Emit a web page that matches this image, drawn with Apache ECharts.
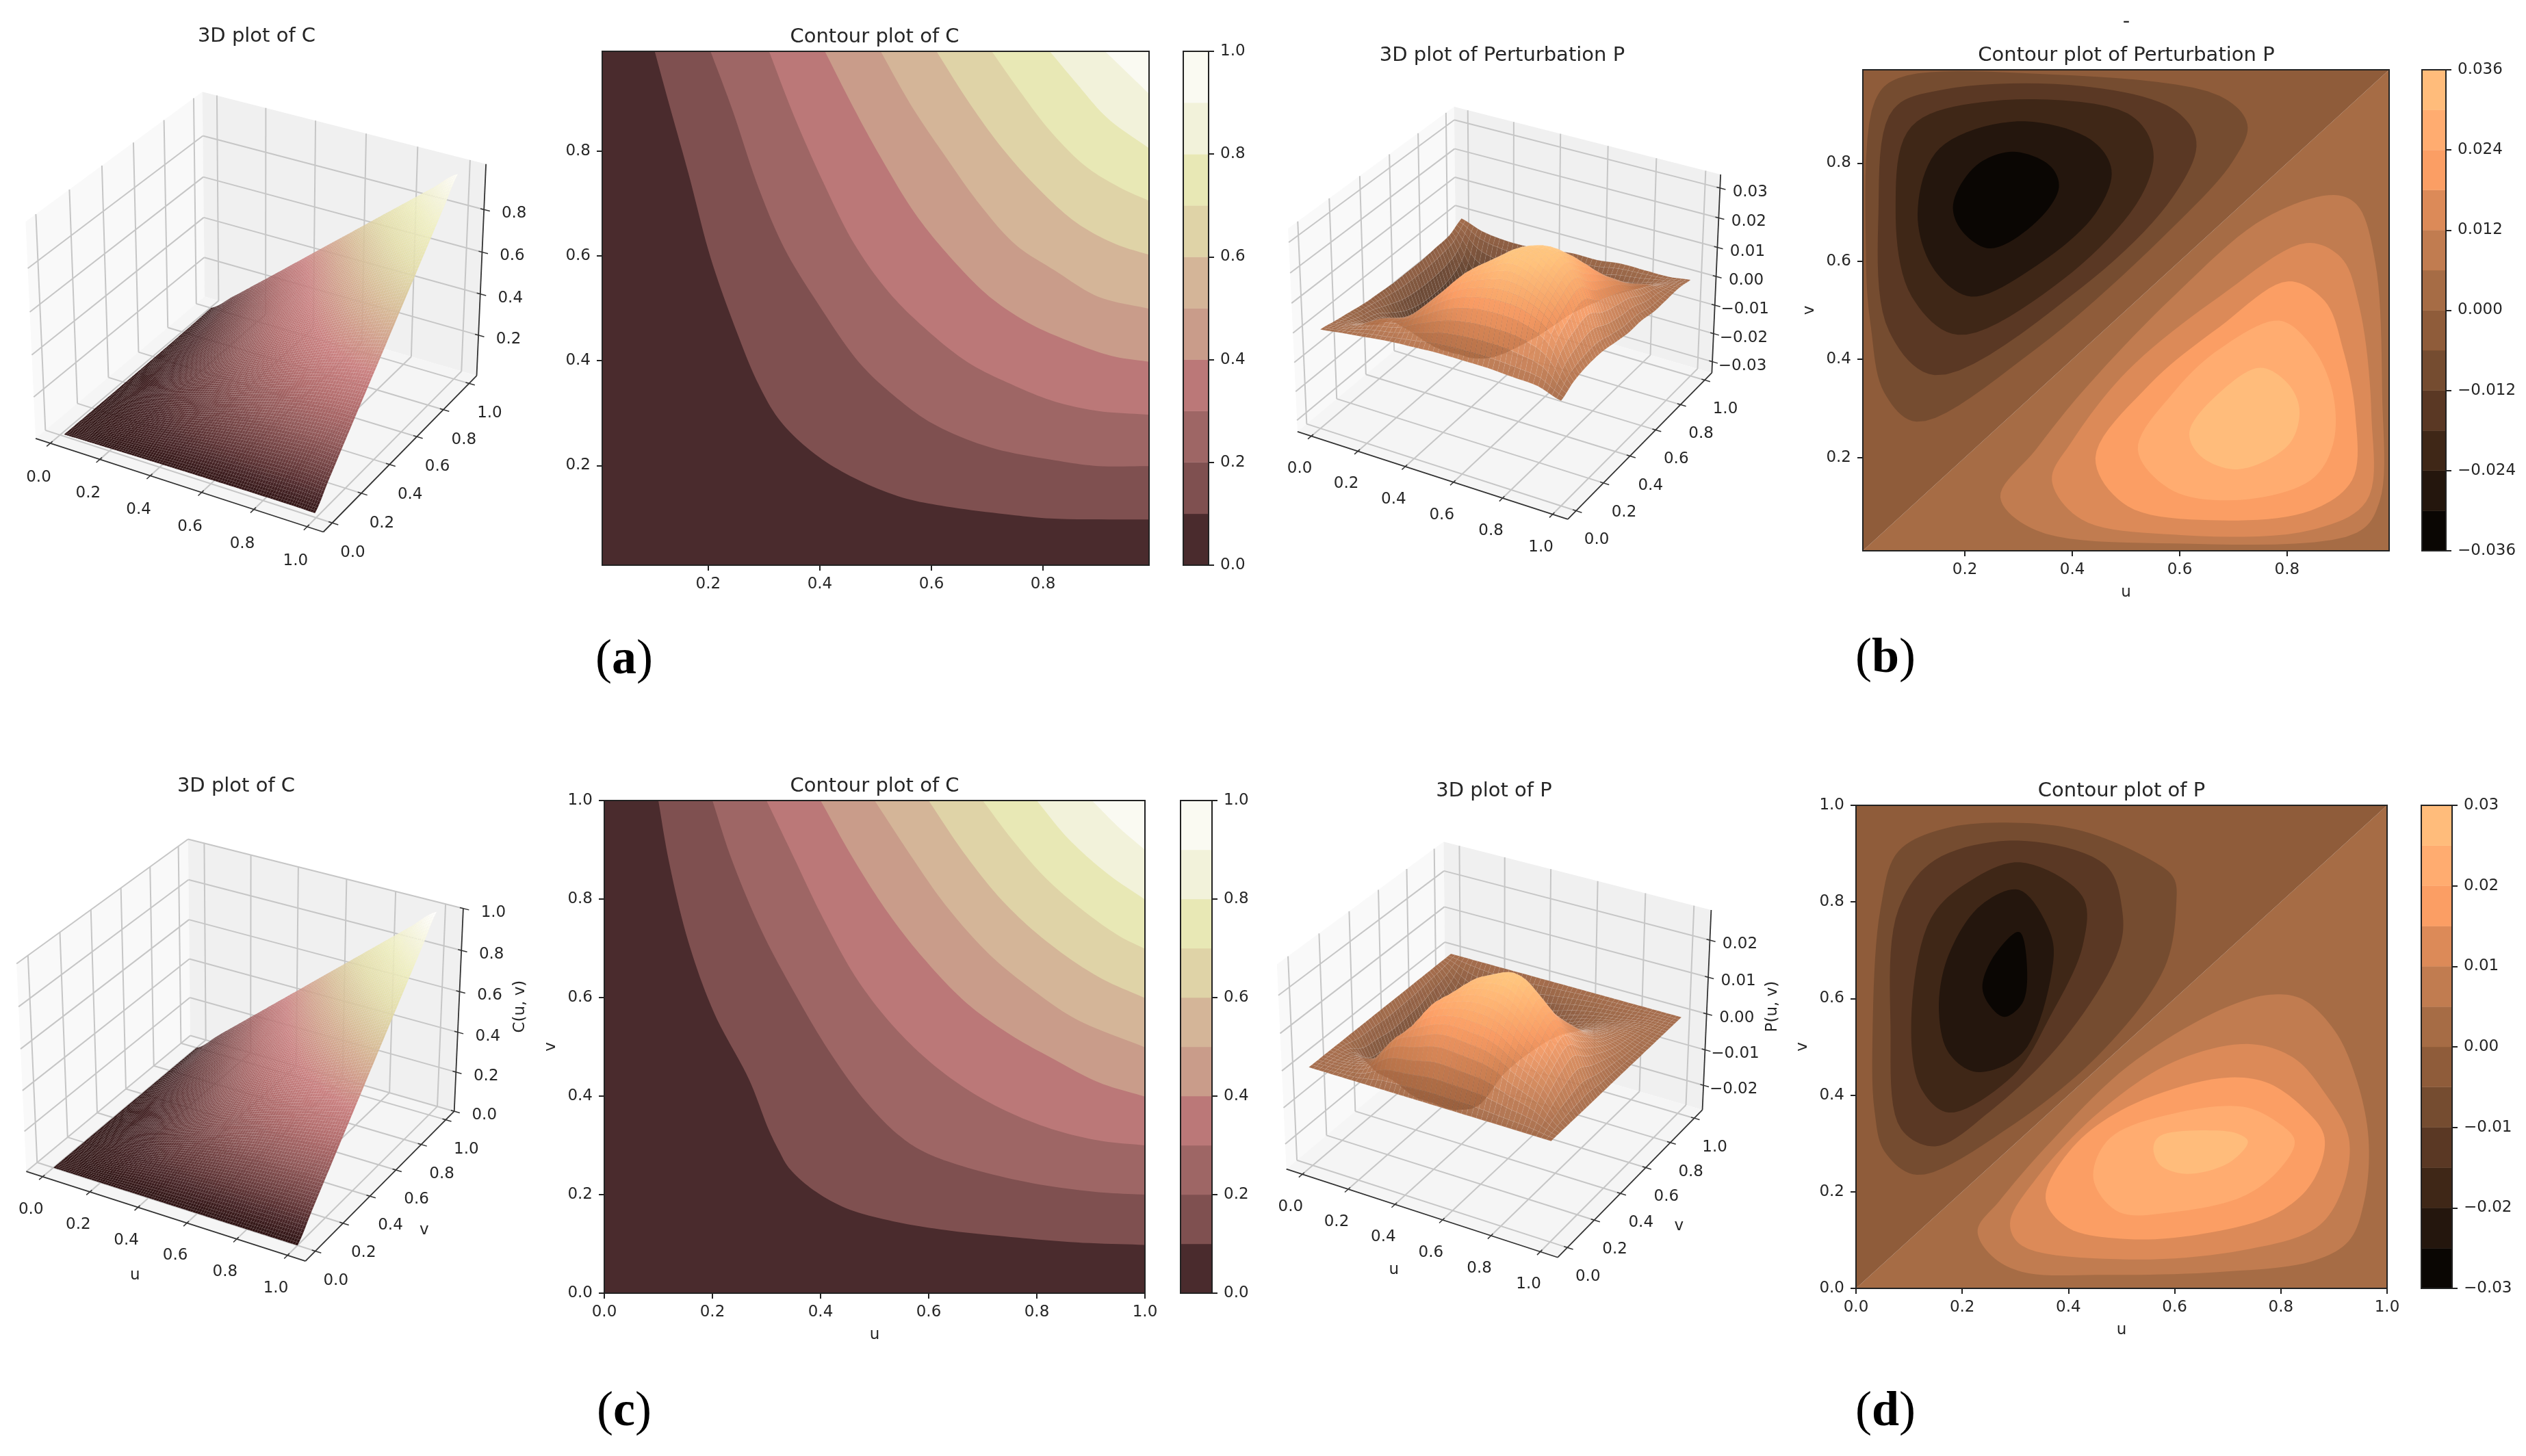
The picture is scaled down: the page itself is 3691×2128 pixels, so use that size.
<!DOCTYPE html>
<html><head><meta charset="utf-8">
<style>html,body{margin:0;background:#fff}#c{width:3691px;height:2128px}</style>
<script src="https://cdn.jsdelivr.net/npm/echarts@6/dist/echarts.min.js"></script>
</head><body><div id="c"></div>
<script>
// ---------- tick labels ----------
const ticks01 = [0, 0.2, 0.4, 0.6, 0.8, 1];
const ticksInner = [0.2, 0.4, 0.6, 0.8];
const ticksZa = [0.2, 0.4, 0.6, 0.8];
const ticksZb = [-0.03, -0.02, -0.01, 0, 0.01, 0.02, 0.03];
const ticksZd = [-0.02, -0.01, 0, 0.01, 0.02];
const ticksCbarB = [-0.036, -0.024, -0.012, 0, 0.012, 0.024, 0.036];
const ticksCbarD = [-0.03, -0.02, -0.01, 0, 0.01, 0.02, 0.03];

// ---------- contour band colours ----------
const colorsC = ['#4A2B2D','#7F5050','#9E6665','#BB7878','#C99C8A','#D4B598','#DFD3A7','#E8E8B5','#F2F2DA','#FAFAF2'];
const colorsP = ['#0A0603','#24160D','#3F2717','#5A3824','#754C30','#8F5C3A','#A66C45','#C17C50','#DC8A58','#FB9E64','#FFAC70','#FFBC7B'];

// ---------- contour lines of C, panel (a): levels 0.1 ... 0.9, [u, v] ----------
const curvesA = [
 [[.104,.99],[.126,.904],[.165,.755],[.204,.597],[.251,.455],[.290,.355],[.329,.285],[.391,.222],[.462,.176],[.548,.139],[.626,.122],[.743,.106],[.813,.099],[.99,.097]],
 [[.204,.99],[.243,.879],[.290,.730],[.337,.613],[.399,.505],[.470,.397],[.532,.334],[.602,.280],[.704,.235],[.821,.210],[.899,.199],[.99,.199]],
 [[.309,.99],[.352,.871],[.407,.738],[.462,.622],[.524,.530],[.587,.463],[.665,.397],[.743,.355],[.821,.322],[.899,.304],[.99,.297]],
 [[.409,.99],[.462,.879],[.509,.788],[.571,.680],[.634,.597],[.704,.522],[.774,.472],[.845,.438],[.923,.409],[.99,.398]],
 [[.509,.99],[.563,.888],[.626,.788],[.688,.696],[.751,.621],[.821,.572],[.899,.522],[.99,.499]],
 [[.609,.99],[.665,.896],[.727,.805],[.790,.730],[.860,.663],[.931,.622],[.99,.602]],
 [[.708,.99],[.759,.913],[.813,.838],[.876,.771],[.938,.730],[.99,.705]],
 [[.812,.99],[.860,.929],[.915,.863],[.99,.805]],
 [[.911,.99],[.954,.946],[.99,.909]]
];
// ---------- contour lines of C, panel (c) ----------
const curvesC = [
 [[.100,1],[.119,.879],[.155,.715],[.203,.569],[.268,.433],[.304,.332],[.324,.287],[.341,.255],[.381,.214],[.446,.173],[.534,.146],[.631,.128],[.752,.114],[.873,.103],[1,.098]],
 [[.2,1],[.236,.879],[.292,.733],[.349,.615],[.413,.496],[.478,.396],[.542,.323],[.591,.287],[.671,.255],[.793,.223],[.914,.205],[1,.2]],
 [[.3,1],[.349,.888],[.405,.760],[.470,.633],[.542,.533],[.623,.451],[.712,.387],[.817,.337],[.914,.310],[1,.3]],
 [[.4,1],[.462,.879],[.526,.770],[.591,.679],[.671,.588],[.752,.524],[.833,.474],[.914,.428],[1,.399]],
 [[.5,1],[.567,.888],[.631,.788],[.712,.688],[.793,.615],[.873,.556],[1,.499]],
 [[.6,1],[.663,.897],[.736,.797],[.817,.715],[.914,.642],[1,.599]],
 [[.7,1],[.752,.924],[.817,.842],[.889,.774],[.954,.724],[1,.699]],
 [[.8,1],[.857,.924],[.930,.852],[1,.799]],
 [[.902,1],[.954,.943],[1,.9]]
];
// ---------- closed contours of P, panel (b) ----------
const loopsBNeg = [
 [[.016,.599],[.033,.928],[.076,.973],[.332,.982],[.674,.937],[.726,.879],[.699,.804],[.588,.670],[.332,.421],[.110,.273],[.050,.332],[.025,.466]],
 [[.039,.697],[.067,.910],[.161,.950],[.417,.957],[.588,.910],[.631,.844],[.588,.732],[.417,.546],[.144,.368],[.059,.457]],
 [[.071,.706],[.101,.875],[.247,.926],[.503,.901],[.550,.830],[.528,.732],[.383,.563],[.187,.450],[.101,.528]],
 [[.112,.697],[.153,.830],[.298,.885],[.434,.848],[.473,.786],[.443,.697],[.332,.590],[.212,.528],[.144,.581]],
 [[.178,.715],[.221,.795],[.289,.823],[.358,.795],[.375,.750],[.332,.679],[.247,.626],[.195,.661]]
];
const loopsBPos = [
 [[.266,.119],[.332,.216],[.417,.332],[.588,.528],[.759,.688],[.887,.735],[.930,.715],[.964,.599],[.977,.332],[.972,.110],[.930,.047],[.588,.025],[.332,.052]],
 [[.362,.154],[.400,.234],[.503,.377],[.674,.528],[.836,.637],[.900,.608],[.934,.510],[.957,.288],[.947,.110],[.844,.052],[.588,.043],[.417,.074]],
 [[.443,.199],[.545,.350],[.674,.466],[.802,.559],[.870,.519],[.904,.421],[.927,.288],[.921,.154],[.844,.092],[.674,.072],[.503,.101]],
 [[.522,.216],[.588,.332],[.674,.421],[.785,.479],[.844,.430],[.885,.332],[.885,.225],[.844,.154],[.716,.114],[.588,.132]],
 [[.618,.252],[.674,.332],[.750,.383],[.802,.350],[.823,.296],[.802,.225],[.708,.176],[.639,.203]]
];
// ---------- closed contours of P, panel (d) ----------
const loopsDNeg = [
 [[.031,.515],[.046,.785],[.080,.905],[.167,.952],[.296,.964],[.426,.947],[.555,.887],[.598,.850],[.603,.794],[.581,.664],[.469,.497],[.296,.339],[.115,.235],[.054,.283],[.035,.367]],
 [[.065,.543],[.080,.785],[.149,.887],[.305,.927],[.469,.877],[.501,.785],[.495,.701],[.391,.515],[.253,.367],[.149,.294],[.085,.330]],
 [[.104,.552],[.141,.766],[.210,.840],[.309,.882],[.426,.812],[.427,.710],[.365,.562],[.296,.441],[.175,.364],[.123,.413]],
 [[.156,.580],[.175,.692],[.236,.794],[.307,.825],[.365,.738],[.371,.673],[.313,.487],[.227,.448],[.175,.487]],
 [[.238,.627],[.262,.692],[.307,.738],[.322,.664],[.313,.590],[.279,.562],[.249,.590]]
];
const loopsDPos = [
 [[.229,.121],[.270,.181],[.357,.292],[.512,.460],[.685,.576],[.780,.608],[.840,.599],[.901,.534],[.940,.441],[.965,.311],[.957,.181],[.927,.097],[.858,.056],[.685,.034],[.469,.028],[.313,.034],[.253,.070]],
 [[.290,.135],[.339,.227],[.460,.367],[.598,.469],[.737,.506],[.823,.478],[.883,.404],[.928,.311],[.914,.200],[.866,.125],[.728,.079],[.512,.060],[.313,.088]],
 [[.357,.186],[.408,.292],[.512,.376],[.685,.435],[.771,.427],[.840,.376],[.882,.313],[.858,.218],[.788,.153],[.642,.111],[.512,.102],[.400,.125]],
 [[.447,.227],[.478,.311],[.598,.362],[.728,.376],[.788,.348],[.826,.306],[.797,.246],[.728,.190],[.598,.158],[.495,.158]],
 [[.560,.292],[.573,.316],[.668,.327],[.719,.320],[.738,.304],[.702,.260],[.624,.237],[.573,.255]]
];

// ---------- surface tables: rows are v, columns are u ----------
const nodesAB = [.01,.1,.2,.3,.4,.5,.6,.7,.8,.9,.99];
const nodesCD = [0,.1,.2,.3,.4,.5,.6,.7,.8,.9,1];
const surfaceA = [
 [.0001,.002,.004,.006,.0075,.009,.010,.011,.0115,.012,.0104],
 [0,.01,.024,.0365,.0525,.068,.081,.092,.101,.106,.102],
 [0,.016,.04,.064,.093,.1225,.148,.172,.189,.201,.202],
 [0,.0235,.056,.09,.125,.167,.206,.242,.272,.293,.301],
 [.0005,.0275,.067,.115,.16,.208,.258,.3055,.3475,.378,.399],
 [.001,.032,.0775,.133,.192,.25,.3085,.3665,.421,.465,.497],
 [.002,.039,.092,.154,.222,.2915,.36,.427,.493,.552,.596],
 [.003,.048,.108,.178,.2545,.3335,.413,.49,.5665,.6375,.694],
 [.0045,.059,.131,.208,.2925,.379,.467,.5535,.64,.724,.793],
 [.006,.074,.159,.247,.342,.435,.528,.6225,.716,.81,.892],
 [.0094,.096,.194,.293,.393,.493,.592,.692,.791,.89,.98]
];
const surfaceB = [
 [0,.001,.002,.003,.0035,.004,.004,.004,.0035,.003,.0005],
 [-.001,0,.004,.0065,.0125,.018,.021,.022,.021,.016,.003],
 [-.002,-.004,0,.004,.013,.0225,.028,.032,.029,.021,.004],
 [-.003,-.0065,-.004,0,.005,.017,.026,.032,.032,.023,.004],
 [-.0035,-.0125,-.013,-.005,0,.008,.018,.0255,.0275,.018,.003],
 [-.004,-.018,-.0225,-.017,-.008,0,.0085,.0165,.021,.015,.002],
 [-.004,-.021,-.028,-.026,-.018,-.0085,0,.007,.013,.012,.002],
 [-.004,-.022,-.032,-.032,-.0255,-.0165,-.007,0,.0065,.0075,.001],
 [-.0035,-.021,-.029,-.032,-.0275,-.021,-.013,-.0065,0,.004,.001],
 [-.003,-.016,-.021,-.023,-.018,-.015,-.012,-.0075,-.004,0,.001],
 [-.0005,-.003,-.004,-.004,-.003,-.002,-.002,-.001,-.001,-.001,0]
];
const surfaceC = [
 [0,0,0,0,0,0,0,0,0,0,0],
 [0,.01,.022,.0395,.0525,.0648,.0745,.0835,.09,.0965,.1],
 [0,.018,.04,.0665,.0975,.1215,.1435,.1625,.1775,.191,.2],
 [0,.0205,.0535,.09,.1315,.1715,.206,.2375,.2615,.283,.3],
 [0,.0275,.0625,.1085,.16,.2095,.2565,.298,.3355,.369,.4],
 [0,.0352,.0785,.1285,.1905,.25,.306,.3602,.4102,.456,.5],
 [0,.0455,.0965,.154,.2235,.294,.36,.424,.4852,.5435,.6],
 [0,.0565,.1175,.1825,.262,.3398,.416,.49,.562,.632,.7],
 [0,.07,.1425,.2185,.3045,.3898,.4748,.558,.64,.721,.8],
 [0,.0835,.169,.257,.351,.444,.5365,.628,.719,.81,.9],
 [0,.1,.2,.3,.4,.5,.6,.7,.8,.9,1]
];
const surfaceD = [
 [0,0,0,0,0,0,0,0,0,0,0],
 [0,0,.002,.0095,.0125,.0148,.0145,.0135,.010,.0065,0],
 [0,-.002,0,.0065,.0175,.0215,.0235,.0225,.0175,.011,0],
 [0,-.0095,-.0065,0,.0115,.0215,.026,.0275,.0215,.013,0],
 [0,-.0125,-.0175,-.0115,0,.0095,.0165,.018,.0155,.009,0],
 [0,-.0148,-.0215,-.0215,-.0095,0,.006,.0102,.0102,.006,0],
 [0,-.0145,-.0235,-.026,-.0165,-.006,0,.004,.0052,.0035,0],
 [0,-.0135,-.0225,-.0275,-.018,-.0102,-.004,0,.002,.002,0],
 [0,-.010,-.0175,-.0215,-.0155,-.0102,-.0052,-.002,0,.001,0],
 [0,-.0065,-.011,-.013,-.009,-.006,-.0035,-.002,-.001,0,0],
 [0,0,0,0,0,0,0,0,0,0,0]
];

// ---------- styles ----------
const FONT = 'DejaVu Sans', INK = '#262626', TICK_FS = 23, TITLE_FS = 29;
const pinkStops = [[0,'#240808'],[.05,'#401C1E'],[.1,'#5C2F30'],[.2,'#8A5050'],[.3,'#AE6666'],[.4,'#C87C7C'],[.5,'#D0A088'],[.6,'#D8C298'],[.7,'#E3DEAA'],[.8,'#EDEDBC'],[.9,'#F6F6DC'],[1,'#FFFFFF']];
const copperStops = [[0,'#000000'],[.8,'#FF9F66'],[1,'#FFC77F']];
function hex(c){return [1,3,5].map(i=>parseInt(c.substr(i,2),16));}
function colorAt(stops,x){
  x=Math.max(0,Math.min(1,x));
  for(let i=1;i<stops.length;i++){ if(x<=stops[i][0]){
    const a=stops[i-1],b=stops[i],t=(x-a[0])/(b[0]-a[0]),ca=hex(a[1]),cb=hex(b[1]);
    return 'rgb('+ca.map((v,k)=>Math.round(v+(cb[k]-v)*t)).join(',')+')';
  }}
  return stops[stops.length-1][1];
}
const fmtMinus = d => v => (v<0?'\u2212':'')+Math.abs(v).toFixed(d);

const opt = {backgroundColor:'#fff',animation:false,title:[],grid:[],xAxis:[],yAxis:[],series:[]};
function addTitle(text,x,y,fs,family,weight,color,rich){
  opt.title.push({text,left:x,top:y,padding:0,textAlign:'center',textVerticalAlign:'middle',
    textStyle:{fontSize:fs||TITLE_FS,fontFamily:family||FONT,fontWeight:weight||'normal',color:color||INK,rich:rich}});
}
function addGrid(l,t,w,h){opt.grid.push({left:l,top:t,width:w,height:h,containLabel:false});return opt.grid.length-1;}
function customSeries(gi,items,render,z,clip){
  opt.series.push({type:'custom',coordinateSystem:'cartesian2d',xAxisIndex:gi,yAxisIndex:gi,silent:true,animation:false,
    progressive:0,clip:!!clip,z:z,data:items.map((_,i)=>[i,0]),renderItem:(p,api)=>render(items[p.dataIndex],api)});
}
// centripetal Catmull-Rom path through the read points (drawing only)
function splineSeg(p0,p1,p2,p3,out,steps){
  const tj=(a,b)=>Math.pow(Math.hypot(b[0]-a[0],b[1]-a[1]),.5)||1e-6;
  const t0=0,t1=t0+tj(p0,p1),t2=t1+tj(p1,p2),t3=t2+tj(p2,p3);
  const L=(a,b,ta,tb,t)=>[a[0]+(b[0]-a[0])*(t-ta)/(tb-ta),a[1]+(b[1]-a[1])*(t-ta)/(tb-ta)];
  for(let k=0;k<steps;k++){
    const t=t1+(t2-t1)*k/steps;
    const A1=L(p0,p1,t0,t1,t),A2=L(p1,p2,t1,t2,t),A3=L(p2,p3,t2,t3,t);
    const B1=L(A1,A2,t0,t2,t),B2=L(A2,A3,t1,t3,t);
    out.push(L(B1,B2,t1,t2,t));
  }
}
function closedPath(l){const n=l.length,o=[];for(let i=0;i<n;i++)splineSeg(l[(i-1+n)%n],l[i],l[(i+1)%n],l[(i+2)%n],o,10);return o;}
function openPath(l){const n=l.length,o=[];for(let i=0;i<n-1;i++)splineSeg(l[Math.max(0,i-1)===i?i:i-1],l[i],l[i+1],l[Math.min(n-1,i+2)===i+1?i+1:i+2],o,10);o.push(l[n-1]);return o;}

// ---------- contour panels ----------
function valueAxis(pos,gi,lim,vals,d,name,gap,extra){
  return Object.assign({type:'value',gridIndex:gi,position:pos,min:lim[0],max:lim[1],scale:true,
    axisLine:{show:true,onZero:false,lineStyle:{color:'#222',width:2}},splitLine:{show:false},
    axisTick:{show:vals.length>0,length:8,customValues:vals,lineStyle:{color:'#222',width:2}},
    axisLabel:{show:vals.length>0,customValues:vals,margin:17,fontSize:TICK_FS,fontFamily:FONT,color:INK,formatter:fmtMinus(d),showMinLabel:true,showMaxLabel:true,hideOverlap:false},
    name:name||'',nameLocation:'middle',nameGap:gap||0,nameTextStyle:{fontSize:TICK_FS,fontFamily:FONT,color:INK}},extra||{});
}
function frameSeries(gi,xl,yl){
  customSeries(gi,[0],(it,api)=>{
    const a=api.coord([xl[0],yl[1]]),b=api.coord([xl[1],yl[0]]);
    return {type:'rect',shape:{x:a[0],y:a[1],width:b[0]-a[0],height:b[1]-a[1]},style:{fill:'none',stroke:'#222',lineWidth:2}};
  },6,false);
}
function contourPanel(box,xl,yl,vals,items,xname,yname){
  const gi=addGrid(box[0],box[1],box[2],box[3]);
  opt.xAxis.push(valueAxis('bottom',gi,xl,vals,1,xname,50));
  opt.yAxis.push(valueAxis('left',gi,yl,vals,1,yname,66,{nameRotate:90}));
  customSeries(gi,items,(it,api)=>({type:'polygon',shape:{points:it.pts.map(p=>api.coord(p))},style:{fill:it.fill}}),3,true);
  frameSeries(gi,xl,yl);
}
function colorbar(box,lim,vals,d,colors){
  const gi=addGrid(box[0],box[1],box[2],box[3]);
  opt.xAxis.push(valueAxis('bottom',gi,[0,1],[],1,'',0,{show:false}));
  opt.yAxis.push(valueAxis('right',gi,lim,vals,d));
  const n=colors.length, bands=colors.map((c,i)=>({lo:i/n,hi:(i+1)/n,c}));
  customSeries(gi,bands,(b,api)=>{
    const span=lim[1]-lim[0],p=api.coord([0,lim[0]+b.hi*span]),q=api.coord([1,lim[0]+b.lo*span]);
    return {type:'rect',shape:{x:p[0],y:p[1],width:q[0]-p[0],height:q[1]-p[1]},style:{fill:b.c,stroke:b.c,lineWidth:.5}};
  },3,true);
  frameSeries(gi,[0,1],lim);
}
function bandsFromCurves(curves,colors,xl,yl){
  const items=[{pts:[[xl[0],yl[0]],[xl[1],yl[0]],[xl[1],yl[1]],[xl[0],yl[1]]],fill:colors[0]}];
  curves.forEach((c,i)=>{
    const n=c.length,s=[c[0][0]+(c[0][0]-c[1][0])*.6,c[0][1]+(c[0][1]-c[1][1])*.6],
      e=[c[n-1][0]+(c[n-1][0]-c[n-2][0])*.6,c[n-1][1]+(c[n-1][1]-c[n-2][1])*.6];
    items.push({pts:[...openPath([s,...c,e]),[1.6,e[1]],[1.6,1.6],[s[0],1.6]],fill:colors[i+1]});
  });
  return items;
}
function bandsFromLoops(neg,pos,colors,xl,yl){
  const mid=colors.length/2;
  const items=[
    {pts:[[xl[0],yl[0]],[xl[1],yl[0]],[xl[1],yl[1]]],fill:colors[mid]},
    {pts:[[xl[0],yl[0]],[xl[1],yl[1]],[xl[0],yl[1]]],fill:colors[mid-1]}
  ];
  neg.forEach((l,i)=>items.push({pts:closedPath(l),fill:colors[mid-2-i]}));
  pos.forEach((l,i)=>items.push({pts:closedPath(l),fill:colors[mid+1+i]}));
  return items;
}
const limIn=[.01,.99], lim01=[0,1];
contourPanel([880,75,799,751],limIn,limIn,ticksInner,bandsFromCurves(curvesA,colorsC,limIn,limIn));
colorbar([1729,75,37,751],[0,1],ticks01,1,colorsC);
contourPanel([2722,102,769,703],limIn,limIn,ticksInner,bandsFromLoops(loopsBNeg,loopsBPos,colorsP,limIn,limIn),'u','v');
colorbar([3539,102,35,703],[-.036,.036],ticksCbarB,3,colorsP);
contourPanel([883,1170,790,720],lim01,lim01,ticks01,bandsFromCurves(curvesC,colorsC,lim01,lim01),'u','v');
colorbar([1725,1170,46,720],[0,1],ticks01,1,colorsC);
contourPanel([2712,1177,776,706],lim01,lim01,ticks01,bandsFromLoops(loopsDNeg,loopsDPos,colorsP,lim01,lim01),'u','v');
colorbar([3538,1177,45,706],[-.03,.03],ticksCbarD,2,colorsP);

// ---------- 3D panels ----------
const EL=30*Math.PI/180, AZ=-60*Math.PI/180, DIST=10, BOX=[1.1429,1.1429,.8572];
const nv=[Math.cos(AZ)*Math.cos(EL),Math.sin(AZ)*Math.cos(EL),Math.sin(EL)];
const uv=[-Math.sin(AZ),Math.cos(AZ),0];
const vv=[-Math.sin(EL)*Math.cos(AZ),-Math.sin(EL)*Math.sin(AZ),Math.cos(EL)];
function projector(P){
  return (x,y,z)=>{
    const a=[((x-P.xl[0])/(P.xl[1]-P.xl[0])-.5)*BOX[0],((y-P.yl[0])/(P.yl[1]-P.yl[0])-.5)*BOX[1],((z-P.zl[0])/(P.zl[1]-P.zl[0])-.5)*BOX[2]];
    const dot=(w)=>w[0]*a[0]+w[1]*a[1]+w[2]*a[2], d=DIST-dot(nv);
    return [DIST*dot(uv)/d,DIST*dot(vv)/d,d];
  };
}
function cr(a,b,c,d,t){return .5*(2*b+(c-a)*t+(2*a-5*b+4*c-d)*t*t+(-a+3*b-3*c+d)*t*t*t);}
function sampleTable(tb,s,t){
  const n=tb.length-1, i=Math.min(n-1,Math.floor(s)), j=Math.min(n-1,Math.floor(t)), fs=s-i, ft=t-j;
  const g=(jj,ii)=>tb[Math.max(0,Math.min(n,jj))][Math.max(0,Math.min(n,ii))];
  const row=k=>cr(g(k,i-1),g(k,i),g(k,i+1),g(k,i+2),fs);
  return cr(row(j-1),row(j),row(j+1),row(j+2),ft);
}
function panel3D(P){
  const W=3691,H=2128, gi=addGrid(0,0,W,H);
  const hidden=(a,b)=>({type:'value',gridIndex:gi,min:a,max:b,show:false,scale:true});
  opt.xAxis.push(hidden(-P.cx/P.sx,(W-P.cx)/P.sx)); opt.yAxis.push(hidden((P.cy-H)/P.sy,P.cy/P.sy));
  const pr=projector(P), [x0,x1]=P.xl,[y0,y1]=P.yl,[z0,z1]=P.zl;
  const xy=(x,y,z)=>pr(x,y,z).slice(0,2);
  const poly=(pts,fill)=>({k:'poly',pts:pts.map(p=>xy(...p)),fill});
  const line=(a,b,c,w)=>({k:'line',a:xy(...a),b:xy(...b),c,w});
  const text=(p,s,dx,dy,rot)=>({k:'text',p:xy(...p),s,dx,dy,rot:rot||0});
  const GC='#C6C6C6',AX='#333333',items=[
    poly([[x0,y0,z0],[x0,y1,z0],[x0,y1,z1],[x0,y0,z1]],'#F9F9F9'),
    poly([[x0,y1,z0],[x1,y1,z0],[x1,y1,z1],[x0,y1,z1]],'#F0F0F0'),
    poly([[x0,y0,z0],[x1,y0,z0],[x1,y1,z0],[x0,y1,z0]],'#F5F5F5')
  ];
  const rx=x1-x0,ry=y1-y0;
  ticks01.forEach(t=>{
    items.push(line([t,y0,z0],[t,y1,z0],GC,2),line([t,y1,z0],[t,y1,z1],GC,2));
    items.push(line([x0,t,z0],[x1,t,z0],GC,2),line([x0,t,z0],[x0,t,z1],GC,2));
    items.push(line([t,y0-.02*ry,z0],[t,y0+.012*ry,z0],AX,1.5),text([t,y0,z0],t.toFixed(1),P.xo[0],P.xo[1]));
    items.push(line([x1+.02*rx,t,z0],[x1-.012*rx,t,z0],AX,1.5),text([x1,t,z0],t.toFixed(1),P.yo[0],P.yo[1]));
  });
  P.zt.forEach(t=>{
    items.push(line([x0,y0,t],[x0,y1,t],GC,2),line([x0,y1,t],[x1,y1,t],GC,2));
    items.push(line([x1+.02*rx,y1,t],[x1-.012*rx,y1,t],AX,1.5),text([x1,y1,t],fmtMinus(P.zd)(t),P.zo[0],P.zo[1]));
  });
  items.push(line([x0,y0,z0],[x1,y0,z0],AX,1.8),line([x1,y0,z0],[x1,y1,z0],AX,1.8),line([x1,y1,z0],[x1,y1,z1],AX,1.8));
  if(P.names){
    const mx=(x0+x1)/2,my=(y0+y1)/2,mz=(z0+z1)/2;
    items.push(text([mx,y0,z0],'u',P.names.u[0],P.names.u[1]));
    items.push(text([x1,my,z0],'v',P.names.v[0],P.names.v[1]));
    items.push(text([x1,y1,mz],P.names.zs,P.names.z[0],P.names.z[1],Math.PI/2));
  }
  customSeries(gi,items,(it,api)=>{
    if(it.k==='poly') return {type:'polygon',shape:{points:it.pts.map(p=>api.coord(p))},style:{fill:it.fill}};
    if(it.k==='line'){const a=api.coord(it.a),b=api.coord(it.b);
      return {type:'line',shape:{x1:a[0],y1:a[1],x2:b[0],y2:b[1]},style:{stroke:it.c,lineWidth:it.w}};}
    const q=api.coord(it.p);
    return {type:'text',x:q[0]+it.dx,y:q[1]+it.dy,rotation:it.rot,style:{text:it.s,fontSize:TICK_FS,fontFamily:FONT,fill:INK,align:'center',verticalAlign:'middle'}};
  },1,false);

  // surface
  const N=P.cells, n=P.nodes.length-1, verts=[];
  for(let j=0;j<=N;j++){ const row=[]; const t=j/N*n;
    for(let i=0;i<=N;i++){ const s=i/N*n;
      const I=Math.min(n-1,Math.floor(s)),J=Math.min(n-1,Math.floor(t));
      const u=P.nodes[I]+(P.nodes[I+1]-P.nodes[I])*(s-I), v=P.nodes[J]+(P.nodes[J+1]-P.nodes[J])*(t-J);
      const z=sampleTable(P.table,s,t), q=pr(u,v,z);
      row.push({q,z});
    } verts.push(row);
  }
  const quads=[];
  for(let j=0;j<N;j++)for(let i=0;i<N;i++){
    const c=[verts[j][i],verts[j][i+1],verts[j+1][i+1],verts[j+1][i]];
    const zm=(c[0].z+c[1].z+c[2].z+c[3].z)/4, dm=(c[0].q[2]+c[1].q[2]+c[2].q[2]+c[3].q[2])/4;
    quads.push({pts:c.map(p=>[p.q[0],p.q[1]]),fill:colorAt(P.stops,(zm-P.cz[0])/(P.cz[1]-P.cz[0])),d:dm});
  }
  quads.sort((a,b)=>b.d-a.d);
  customSeries(gi,quads,(q,api)=>({type:'polygon',shape:{points:q.pts.map(p=>api.coord(p))},style:{fill:q.fill,opacity:P.alpha,stroke:P.mesh,lineWidth:.7}}),3,false);
}
const meshC='rgba(255,225,225,.05)', meshP='rgba(255,255,255,.09)';
panel3D({cx:380,cy:441,sx:421.5,sy:421.5,xl:[-.06,1.06],yl:[-.06,1.06],zl:[0,1.01],zt:ticksZa,zd:1,xo:[-17,50],yo:[30,44],zo:[44,6],
  nodes:nodesAB,table:surfaceA,cells:100,stops:pinkStops,cz:[0,1],alpha:.96,mesh:meshC});
panel3D({cx:2204,cy:443.6,sx:396,sy:395,xl:[-.06,1.06],yl:[-.06,1.06],zl:[-.034,.0345],zt:ticksZb,zd:2,xo:[-17,48],yo:[30,43],zo:[44,6],
  nodes:nodesAB,table:surfaceB,cells:50,stops:copperStops,cz:[-.032,.032],alpha:.92,mesh:meshP});
panel3D({cx:356.6,cy:1520.6,sx:409,sy:404,xl:[-.07,1.07],yl:[-.07,1.07],zl:[0,1],zt:ticks01,zd:1,xo:[-17,48],yo:[30,43],zo:[44,6],
  names:{u:[-40,88],v:[60,69],z:[90,-8],zs:'C(u, v)'},nodes:nodesCD,table:surfaceC,cells:100,stops:pinkStops,cz:[0,1],alpha:.96,mesh:meshC});
panel3D({cx:2189,cy:1520,sx:397.6,sy:398,xl:[-.07,1.07],yl:[-.07,1.07],zl:[-.027,.028],zt:ticksZd,zd:2,xo:[-17,48],yo:[30,43],zo:[44,6],
  names:{u:[-36,84],v:[67,67],z:[96,-8],zs:'P(u, v)'},nodes:nodesCD,table:surfaceD,cells:50,stops:copperStops,cz:[-.0275,.0275],alpha:.92,mesh:meshP});

// ---------- titles ----------
addTitle('3D plot of C',375,53);
addTitle('Contour plot of C',1278,54);
addTitle('3D plot of Perturbation P',2195,81);
addTitle('-',3107,32);
addTitle('Contour plot of Perturbation P',3107,81);
addTitle('3D plot of C',345,1149);
addTitle('Contour plot of C',1278,1149);
addTitle('3D plot of P',2183,1156);
addTitle('Contour plot of P',3100,1156);
const SERIF='Liberation Serif';
const letterRich={p:{fontFamily:SERIF,fontSize:72,fontWeight:'normal',color:'#000'},b:{fontFamily:SERIF,fontSize:72,fontWeight:'bold',color:'#000'}};
const letter=(s,x,y)=>addTitle('{p|(}{b|'+s+'}{p|)}',x,y,72,SERIF,'bold','#000',letterRich);
letter('a',912,965); letter('b',2755,963); letter('c',912,2064); letter('d',2755,2064);

echarts.init(document.getElementById('c'),null,{renderer:'canvas',width:3691,height:2128}).setOption(opt);
</script></body></html>
